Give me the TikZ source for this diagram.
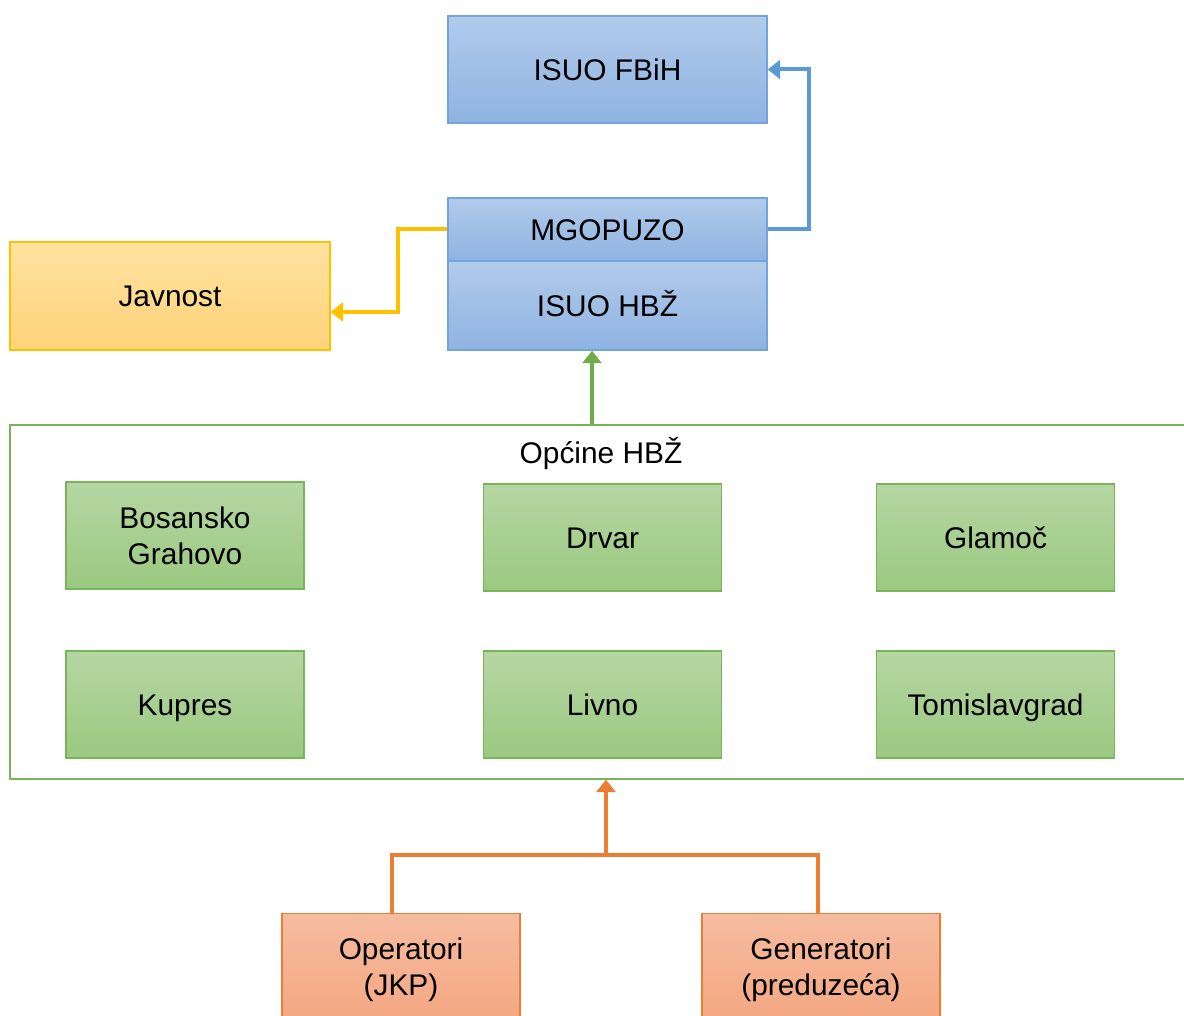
\documentclass[tikz,border=0pt]{standalone}
\usepackage{fontspec}
\setmainfont{Liberation Sans}
\usetikzlibrary{arrows.meta,calc}
\definecolor{bluetop}{RGB}{177,203,234}
\definecolor{bluebot}{RGB}{143,179,226}
\definecolor{blueline}{RGB}{116,164,220}
\definecolor{bluearr}{RGB}{91,155,213}
\definecolor{yeltop}{RGB}{255,226,160}
\definecolor{yelbot}{RGB}{255,211,122}
\definecolor{yelline}{RGB}{255,192,0}
\definecolor{grntop}{RGB}{182,214,163}
\definecolor{grnbot}{RGB}{154,201,128}
\definecolor{grnline}{RGB}{122,180,88}
\definecolor{grnarr}{RGB}{112,173,71}
\definecolor{orgtop}{RGB}{246,188,160}
\definecolor{orgbot}{RGB}{244,166,128}
\definecolor{orgline}{RGB}{237,125,49}
\tikzset{
  box/.style={draw, line width=0.03cm, minimum width=4.76cm, minimum height=2.14cm,
    inner sep=0pt, align=center, font=\fontsize{17}{20.5}\selectfont},
  oneline/.style={text height=13pt, text depth=1pt},
  bbox/.style={box, oneline, top color=bluetop, bottom color=bluebot, draw=blueline, minimum width=6.38cm},
  ybox/.style={box, oneline, top color=yeltop, bottom color=yelbot, draw=yelline, minimum width=6.4cm, minimum height=2.16cm},
  gbox/.style={box, top color=grntop, bottom color=grnbot, draw=grnline},
  obox/.style={box, top color=orgtop, bottom color=orgbot, draw=orgline, minimum height=2.26cm},
  conn/.style={line width=0.08cm, arrows={-Triangle[length=0.25cm, width=0.38cm]}},
}
\newcommand{\opcina}[5]{\node[gbox,#5] (#1) at (#2,#3) {#4};}
\begin{document}
\begin{tikzpicture}[x=0.02cm, y=-0.02cm]
  \useasboundingbox (0,0) rectangle (1184,1016);
  \clip (0,0) rectangle (1184,1016);
  % upper level
  \node[bbox] (fbih) at (607.5,69.5) {ISUO FBiH};
  \node[bbox, minimum height=1.26cm] (mgo) at (607.5,229.5) {MGOPUZO};
  \node[bbox, minimum height=1.78cm] (hbz) at (607.5,305.5) {ISUO HBŽ};
  \node[ybox] (jav) at (170,296) {Javnost};
  % municipalities
  \node[draw=grnline, line width=0.03cm, minimum width=23.8cm, minimum height=7.08cm] (opc) at (605,602) {};
  \node[font=\fontsize{17}{20.5}\selectfont, oneline] (opclab) at (601,453) {Općine HBŽ};
  \opcina{bg}{185}{535.5}{Bosansko\\Grahovo}{}
  \opcina{drv}{602.5}{537.5}{Drvar}{oneline}
  \opcina{gla}{995.5}{537.5}{Glamoč}{oneline}
  \opcina{kup}{185}{704.5}{Kupres}{oneline}
  \opcina{liv}{602.5}{704.5}{Livno}{oneline}
  \opcina{tom}{995.5}{704.5}{Tomislavgrad}{oneline}
  % sources
  \node[obox] (op) at (401,970) {Operatori\\(JKP)};
  \node[obox] (gen) at (821,970) {Generatori\\(preduzeća)};
  \coordinate (join) at (606,855);
  % connectors
  \draw[conn, bluearr] (mgo.east) -- ++(41,0) |- (fbih.east);
  \draw[conn, yelline] (mgo.west) -- ++(-49,0) |- ([yshift=-0.32cm]jav.east);
  \draw[conn, grnarr] ([xshift=-0.26cm]opc.north) -- ([xshift=-0.26cm]opc.north |- hbz.south);
  \draw[line width=0.08cm, orgline] ([xshift=-0.18cm]op.north) |- (join) -| ([xshift=-0.06cm]gen.north);
  \draw[conn, orgline] (join) -- (join |- opc.south);
\end{tikzpicture}
\end{document}
